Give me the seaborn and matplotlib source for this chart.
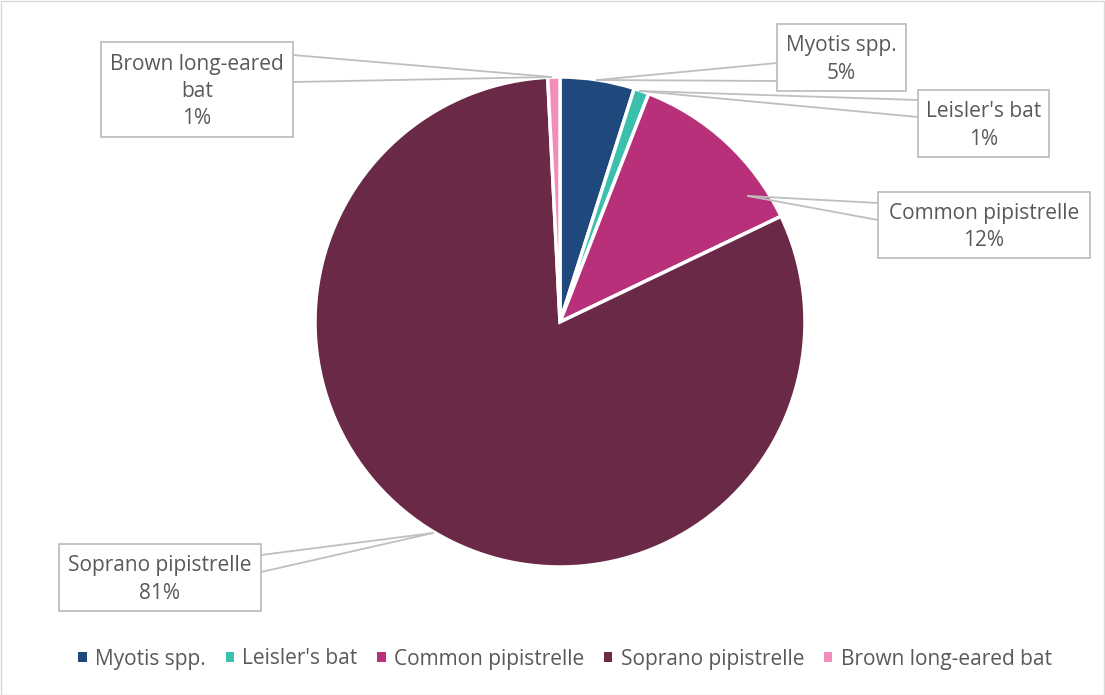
import matplotlib
matplotlib.use("Agg")
import matplotlib.pyplot as plt
from matplotlib.patches import Rectangle, Patch
import seaborn as sns
import numpy as np

# ---- data ----
species = ["Myotis spp.", "Leisler's bat", "Common pipistrelle", "Soprano pipistrelle", "Brown long-eared bat"]
shares = [4.9, 1.0, 12.0, 81.3, 0.8]
box_labels = ["Myotis spp.\n5%", "Leisler's bat\n1%", "Common pipistrelle\n12%",
              "Soprano pipistrelle\n81%", "Brown long-eared\nbat\n1%"]
colors = ["#1F497D", "#3CC0AE", "#B83079", "#6A2946", "#F18DBA"]

sns.set_theme(style="white")
plt.rcParams['font.family'] = ['Open Sans', 'DejaVu Sans']

W, H = 1105, 695
fig = plt.figure(figsize=(W / 100, H / 100), dpi=100)
fig.patch.set_facecolor("white")
ax = fig.add_axes([0, 0, 1, 1])

def py(y):
    return H - y

cx, cy, R = 560, 322, 245
wedges, _ = ax.pie(shares, colors=sns.color_palette(colors), startangle=90, counterclock=False,
                   center=(cx, py(cy)), radius=R,
                   wedgeprops=dict(edgecolor="white", linewidth=2.5))
ax.set_xlim(0, W)
ax.set_ylim(0, H)
ax.set_aspect("equal")
ax.axis("off")

# label boxes: (x0, y0, x1, y1) in pixels, leader base y's on box edge, anchor point
txtc = "#595959"
boxes = [
    dict(box=(777, 24, 906, 91), side="left", e=(63, 81), anchor=(597, 80)),
    dict(box=(918, 90, 1049, 157), side="left", e=(100, 117), anchor=(640, 91)),
    dict(box=(878, 192, 1090, 258), side="left", e=(203, 220), anchor=(748, 196)),
    dict(box=(59, 544, 261, 611), side="right", e=(555, 572), anchor=(433, 533)),
    dict(box=(101, 42, 293, 137), side="right", e=(55, 82), anchor=(551, 77)),
]
for lab, b in zip(box_labels, boxes):
    x0, y0, x1, y1 = b["box"]
    ax.add_patch(Rectangle((x0, py(y1)), x1 - x0, y1 - y0, facecolor="white",
                           edgecolor="#BFBFBF", linewidth=1.3, zorder=3))
    ex = x0 if b["side"] == "left" else x1
    ax_, ay_ = b["anchor"]
    for ey in b["e"]:
        ax.plot([ex, ax_], [py(ey), py(ay_)], color="#BFBFBF", linewidth=1.3, zorder=2)
    ax.text((x0 + x1) / 2, py((y0 + y1) / 2 + 2), lab, ha="center", va="center",
            fontsize=15, color=txtc, linespacing=1.4, zorder=4)

handles = [Patch(facecolor=c, edgecolor="none", label=s) for c, s in zip(colors, species)]
leg = fig.legend(handles=handles, loc="center", bbox_to_anchor=(565 / W, 1 - 659 / H), ncol=5,
                 frameon=False, fontsize=15, handlelength=0.4, handleheight=0.4,
                 handletextpad=0.4, columnspacing=0.95, borderpad=0, borderaxespad=0)
for t in leg.get_texts():
    t.set_color(txtc)

fig.add_artist(Rectangle((0.5 / W, 0.5 / H), 1 - 1.5 / W, 1 - 1.5 / H, transform=fig.transFigure,
                         fill=False, edgecolor="#D9D9D9", linewidth=1))

fig.savefig("out.png", dpi=100, facecolor="white")
